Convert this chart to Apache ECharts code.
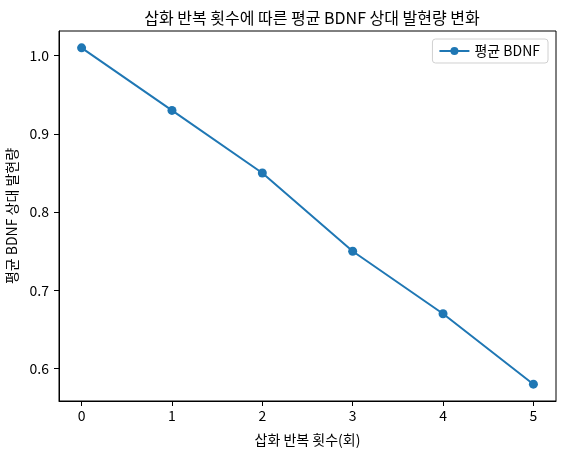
<!DOCTYPE html>
<html>
<head>
<meta charset="utf-8">
<script src="https://cdn.jsdelivr.net/npm/echarts@6/dist/echarts.min.js"></script>
<style>
  html, body { margin: 0; padding: 0; background: #fff; }
  #chart { width: 564px; height: 455px; }
</style>
</head>
<body>
<div id="chart"></div>
<script>
// repetitions (x) and mean relative BDNF expression (y)
const repeats = [0, 1, 2, 3, 4, 5];
const bdnfMean = [1.01, 0.93, 0.85, 0.75, 0.67, 0.58];
const yTicks = [0.6, 0.7, 0.8, 0.9, 1.0];
const seriesName = '평균 BDNF';

const font = '"Noto Sans CJK KR", "Noto Sans", sans-serif';
const chart = echarts.init(document.getElementById('chart'));

const option = {
  animation: false,
  textStyle: { fontFamily: font },
  title: {
    text: '삽화 반복 횟수에 따른 평균 BDNF 상대 발현량 변화',
    left: 307, top: 5, textAlign: 'center',
    textStyle: { fontSize: 16, fontWeight: 'normal', color: '#000', fontFamily: font }
  },
  legend: {
    right: 16, top: 39,
    itemWidth: 30, itemHeight: 10, itemGap: 6,
    padding: [5, 8, 5, 6],
    borderColor: '#d0d0d0', borderWidth: 1, borderRadius: 3,
    textStyle: { fontSize: 14, color: '#000', fontFamily: font },
    data: [seriesName]
  },
  grid: {
    left: 59, right: 8, top: 31, bottom: 54,
    outerBoundsMode: 'none',
    show: true, borderColor: '#000', borderWidth: 1
  },
  xAxis: {
    type: 'value',
    min: -0.25, max: 5.25,
    name: '삽화 반복 횟수(회)',
    nameLocation: 'middle', nameGap: 32,
    nameTextStyle: { fontSize: 14, color: '#000' },
    axisLine: { show: true, onZero: false, lineStyle: { color: '#000', width: 1 } },
    axisTick: { show: true, length: 5, lineStyle: { color: '#000' }, customValues: repeats },
    axisLabel: { fontSize: 14, color: '#000', margin: 8, customValues: repeats },
    splitLine: { show: false }
  },
  yAxis: {
    type: 'value',
    min: 0.5585, max: 1.0315,
    name: '평균 BDNF 상대 발현량',
    nameLocation: 'middle', nameGap: 35,
    nameTextStyle: { fontSize: 14, color: '#000' },
    axisLine: { show: true, onZero: false, lineStyle: { color: '#000', width: 1 } },
    axisTick: { show: true, length: 5, lineStyle: { color: '#000' }, customValues: yTicks },
    axisLabel: {
      fontSize: 14, color: '#000', margin: 10, customValues: yTicks,
      formatter: v => v.toFixed(1)
    },
    splitLine: { show: false }
  },
  series: [{
    name: seriesName,
    type: 'line',
    data: repeats.map((x, i) => [x, bdnfMean[i]]),
    symbol: 'circle', symbolSize: 9,
    lineStyle: { color: '#1f77b4', width: 2 },
    itemStyle: { color: '#1f77b4' }
  }]
};

chart.setOption(option);
</script>
</body>
</html>
